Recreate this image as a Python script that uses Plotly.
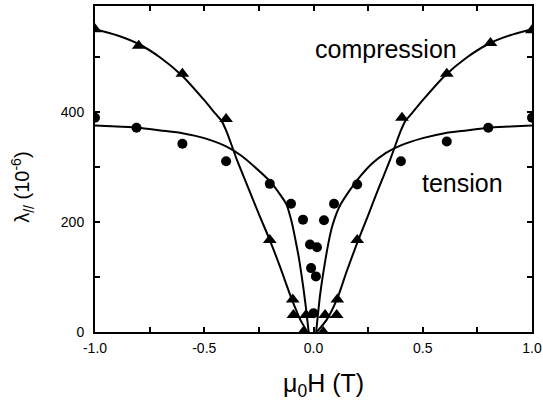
import plotly.graph_objects as go

# Measured points (compression: triangles, tension: circles)
comp_x = [-1.0, -0.8, -0.6, -0.4, -0.2, -0.095, -0.092, -0.034, -0.047, 0.045, 0.053, 0.106, 0.109, 0.2, 0.405, 0.61, 0.81, 1.0]
comp_y = [550, 520, 469, 387, 167, 59, 31, 31, 0, 0, 31, 31, 59, 167, 389, 469, 525, 548]

tens_x = [-1.0, -0.81, -0.6, -0.4, -0.2, -0.103, -0.048, -0.016, -0.011, 0.0, 0.011, 0.016, 0.048, 0.094, 0.2, 0.4, 0.61, 0.8, 1.0]
tens_y = [389, 371, 342, 310, 269, 233, 204, 159, 116, 34, 101, 154, 203, 233, 268, 310, 346, 371, 389]

# Fitted curves
comp_fit_left_x = [-1.0, -0.9, -0.8, -0.7, -0.6, -0.5, -0.45, -0.42, -0.4, -0.38, -0.35, -0.3, -0.25, -0.2, -0.15, -0.1, -0.06, -0.028]
comp_fit_left_y = [550, 539, 523, 498, 465, 421, 397, 383, 366, 345, 312, 263, 214, 167, 115, 60, 22, 0]
comp_fit_right_x = [0.015, 0.06, 0.11, 0.15, 0.2, 0.25, 0.3, 0.35, 0.38, 0.4, 0.42, 0.45, 0.5, 0.6, 0.7, 0.8, 0.9, 1.0]
comp_fit_right_y = [0, 22, 62, 108, 162, 212, 263, 312, 345, 366, 383, 397, 421, 465, 498, 523, 539, 550]

tens_fit_left_x = [-1.0, -0.9, -0.8, -0.7, -0.6, -0.5, -0.4, -0.33, -0.27, -0.2, -0.15, -0.123, -0.1, -0.08, -0.065, -0.047, -0.035, -0.022]
tens_fit_left_y = [375, 373, 371, 366, 361, 352, 337, 320, 300, 274, 248, 231, 200, 162, 130, 82, 45, 0]
tens_fit_right_x = [0.012, 0.022, 0.031, 0.054, 0.07, 0.085, 0.105, 0.123, 0.16, 0.2, 0.268, 0.33, 0.4, 0.5, 0.6, 0.7, 0.8, 0.9, 1.0]
tens_fit_right_y = [0, 38, 70, 130, 165, 191, 215, 231, 254, 276, 306, 325, 339, 352, 361, 366, 371, 373, 375]

x_tickvals = [-1.0, -0.75, -0.5, -0.25, 0.0, 0.25, 0.5, 0.75, 1.0]
x_ticktext = ["-1.0", "", "-0.5", "", "0.0", "", "0.5", "", "1.0"]
y_tickvals = [0, 100, 200, 300, 400, 500]
y_ticktext = ["0", "", "200", "", "400", ""]

FONT = "Liberation Sans, Arial, sans-serif"

fig = go.Figure()
line_style = dict(color="black", width=2, shape="spline", smoothing=0.6)
for fx, fy in [(comp_fit_left_x, comp_fit_left_y), (comp_fit_right_x, comp_fit_right_y),
               (tens_fit_left_x, tens_fit_left_y), (tens_fit_right_x, tens_fit_right_y)]:
    fig.add_trace(go.Scatter(x=fx, y=fy, mode="lines", line=line_style,
                             showlegend=False, hoverinfo="skip"))

fig.add_trace(go.Scatter(x=comp_x, y=comp_y, mode="markers",
                         marker=dict(symbol="triangle-up", size=12, color="black"),
                         showlegend=False))
fig.add_trace(go.Scatter(x=tens_x, y=tens_y, mode="markers",
                         marker=dict(symbol="circle", size=10, color="black"),
                         showlegend=False))

axis_common = dict(showline=True, linecolor="black", linewidth=2, mirror="allticks",
                   ticks="inside", ticklen=5, tickwidth=1.5, tickcolor="black",
                   showgrid=False, zeroline=False, automargin=False,
                   tickfont=dict(family=FONT, size=14, color="black"))

fig.update_xaxes(range=[-1.0, 1.0], tickmode="array", tickvals=x_tickvals,
                 ticktext=x_ticktext, ticklabelstandoff=2, **axis_common)
fig.update_yaxes(range=[0, 592], tickmode="array", tickvals=y_tickvals,
                 ticktext=y_ticktext, ticklabelstandoff=6, **axis_common)

fig.add_annotation(x=0.33, y=514, xref="x", yref="y", text="compression",
                   showarrow=False, xanchor="center", yanchor="middle",
                   font=dict(family=FONT, size=25, color="black"))
fig.add_annotation(x=0.68, y=270, xref="x", yref="y", text="tension",
                   showarrow=False, xanchor="center", yanchor="middle",
                   font=dict(family=FONT, size=25, color="black"))
fig.add_annotation(x=0.524, y=-0.163, xref="paper", yref="paper",
                   text="μ<sub>0</sub>H (T)", showarrow=False,
                   xanchor="center", yanchor="middle",
                   font=dict(family=FONT, size=25, color="black"))
fig.add_annotation(x=-0.165, y=0.445, xref="paper", yref="paper",
                   text="λ<sub>//</sub> (10<sup>-6</sup>)", showarrow=False, textangle=-90,
                   xanchor="center", yanchor="middle",
                   font=dict(family=FONT, size=20, color="black"))

fig.update_layout(width=543, height=403, margin=dict(l=95, r=11, t=6, b=71),
                  paper_bgcolor="white", plot_bgcolor="white")

fig.write_html("out.html", config={"displayModeBar": False},
               post_script="document.body.style.margin='0px';")
